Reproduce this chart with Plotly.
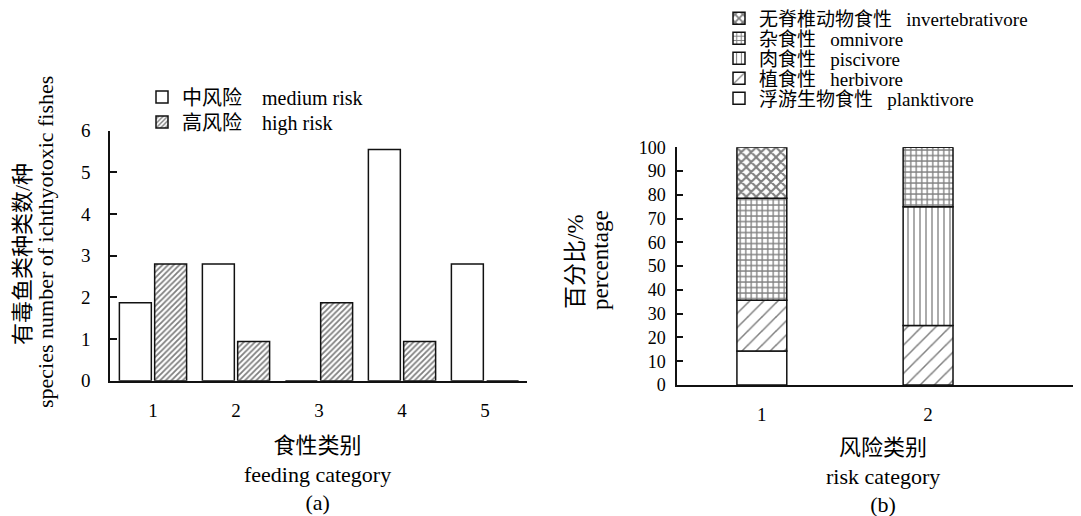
import plotly.graph_objects as go

# ---------------- data ----------------
feeding_categories = [1, 2, 3, 4, 5]
medium_risk = [1.87, 2.8, 0, 5.55, 2.8]
high_risk = [2.8, 0.94, 1.87, 0.94, 0]

risk_categories = [1, 2]
planktivore = [14.3, 0]
herbivore = [21.4, 25]
piscivore = [0, 50]
omnivore = [42.9, 25]
invertebrativore = [21.4, 0]

left_ticks = [0, 1, 2, 3, 4, 5, 6]
right_ticks = [0, 10, 20, 30, 40, 50, 60, 70, 80, 90, 100]

# ---------------- style ----------------
OX, OY = 8, 8          # page offset of the figure inside the browser
W, H = 1081 - OX, 516 - OY
FONT = "Liberation Serif, 'Noto Sans CJK SC', serif"
NB = "\u00a0"


def px(x):
    return (x - OX) / W


def py(y):
    return 1 - (y - OY) / H


fig = go.Figure()

# left chart (a)
fig.add_trace(go.Bar(
    x=feeding_categories, y=medium_risk, xaxis="x", yaxis="y",
    name="中风险" + NB * 4 + "medium risk", legend="legend",
    width=0.385, offset=-0.405,
    marker=dict(color="white", line=dict(color="#111", width=1.5)),
))
fig.add_trace(go.Bar(
    x=feeding_categories, y=high_risk, xaxis="x", yaxis="y",
    name="高风险" + NB * 4 + "high risk", legend="legend2",
    width=0.385, offset=0.02,
    marker=dict(color="white", line=dict(color="#111", width=1.5),
                pattern=dict(shape="/", size=4, solidity=0.45, fgcolor="black", bgcolor="white")),
))

# right chart (b) - stacked via explicit base
series_b = [
    ("浮游生物食性" + NB * 3 + "planktivore", planktivore, "", 10, 0.2, "legend7"),
    ("植食性" + NB * 3 + "herbivore", herbivore, "/", 10, 0.15, "legend6"),
    ("肉食性" + NB * 3 + "piscivore", piscivore, "|", 6, 0.22, "legend5"),
    ("杂食性" + NB * 3 + "omnivore", omnivore, "+", 5.5, 0.42, "legend4"),
    ("无脊椎动物食性" + NB * 3 + "invertebrativore", invertebrativore, "x", 7, 0.5, "legend3"),
]
base = [0.0] * len(risk_categories)
for name, vals, shape, size, sol, lg in series_b:
    fig.add_trace(go.Bar(
        x=risk_categories, y=vals, base=list(base), xaxis="x2", yaxis="y2",
        name=name, legend=lg, width=0.3, offset=-0.15,
        marker=dict(color="white", line=dict(color="#111", width=1.5),
                    pattern=dict(shape=shape, size=size, solidity=sol,
                                 fgcolor="black", bgcolor="white")),
    ))
    base = [b + v for b, v in zip(base, vals)]

axis_common = dict(showgrid=False, zeroline=False, showline=True,
                   linecolor="#111", linewidth=1.5)

legend_common = dict(xanchor="left", yanchor="middle", bgcolor="rgba(0,0,0,0)",
                     borderwidth=0, orientation="v")

fig.update_layout(
    width=W, height=H,
    margin=dict(l=0, r=0, t=0, b=0, autoexpand=False),
    paper_bgcolor="white", plot_bgcolor="white",
    barmode="overlay",
    showlegend=True,
    font=dict(family=FONT, color="black"),
    xaxis=dict(domain=[px(110), px(527)], range=[0.482, 5.506], anchor="y",
               tickvals=feeding_categories, ticks="", ticklabelstandoff=12,
               tickfont=dict(family=FONT, size=19, color="black"), **axis_common),
    yaxis=dict(domain=[py(380.7), py(130.7)], range=[0, 6], anchor="x",
               tickvals=left_ticks, ticks="inside", ticklen=7, tickwidth=1.5,
               tickcolor="#111", ticklabelstandoff=14,
               tickfont=dict(family=FONT, size=19, color="black"), **axis_common),
    xaxis2=dict(domain=[px(677), 1.0], range=[0.4895, 2.92], anchor="y2",
                tickvals=risk_categories, ticks="", ticklabelstandoff=11,
                tickfont=dict(family=FONT, size=19, color="black"), **axis_common),
    yaxis2=dict(domain=[py(385), py(147.3)], range=[0, 100], anchor="x2",
                tickvals=right_ticks, ticks="inside", ticklen=6, tickwidth=1.5,
                tickcolor="#111", ticklabelstandoff=6,
                tickfont=dict(family=FONT, size=18, color="black"), **axis_common),
    legend=dict(x=px(142), y=py(97), font=dict(family=FONT, size=20), **legend_common),
    legend2=dict(x=px(142), y=py(122), font=dict(family=FONT, size=20), **legend_common),
    legend3=dict(x=px(719), y=py(18.5), font=dict(family=FONT, size=19), **legend_common),
    legend4=dict(x=px(719), y=py(38.5), font=dict(family=FONT, size=19), **legend_common),
    legend5=dict(x=px(719), y=py(58.5), font=dict(family=FONT, size=19), **legend_common),
    legend6=dict(x=px(719), y=py(78.5), font=dict(family=FONT, size=19), **legend_common),
    legend7=dict(x=px(719), y=py(98.5), font=dict(family=FONT, size=19), **legend_common),
)

annotations = [
    dict(text="有毒鱼类种类数/种", x=px(22), y=py(254), textangle=-90, size=22),
    dict(text="species number of ichthyotoxic fishes", x=px(45), y=py(242), textangle=-90, size=22),
    dict(text="食性类别<br>feeding category<br>(a)", x=px(317), y=py(474), size=22),
    dict(text="百分比/%", x=px(575), y=py(262), textangle=-90, size=23),
    dict(text="percentage", x=px(600), y=py(260), textangle=-90, size=23),
    dict(text="风险类别<br>risk category<br>(b)", x=px(883), y=py(476), size=22),
]
for a in annotations:
    size = a.pop("size")
    fig.add_annotation(xref="paper", yref="paper", xanchor="center", yanchor="middle",
                       showarrow=False, font=dict(family=FONT, size=size, color="black"), **a)

fig.write_html("out.html")
